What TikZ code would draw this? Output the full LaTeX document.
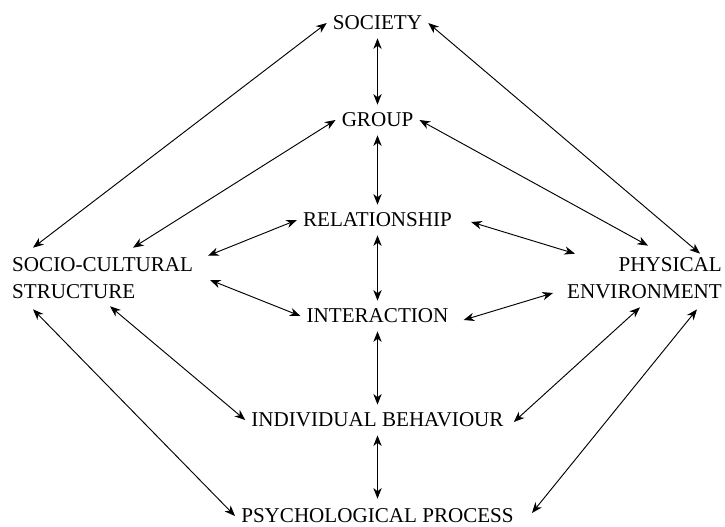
\documentclass[tikz,border=0pt]{standalone}
\usepackage{fontspec}
\setmainfont{Liberation Serif}
\usetikzlibrary{arrows.meta,calc}

\begin{document}
\begin{tikzpicture}[x=0.03cm, y=-0.03cm,
		concept/.style={
		% The shape:
		rectangle,
		% The spacing:
		inner xsep=0.18cm, inner ysep=0.24cm,
		% Font
		font=\fontsize{18}{23}\selectfont
		},
		link/.style={
		% both ends
		<->, line width=0.8pt,
		>={Stealth[length=3.2mm,width=2.5mm,inset=1mm]}
		},
		]
	\useasboundingbox (0,0) rectangle (725,526);
	% middle column
	\node [concept] (society) at (377.5,23) {SOCIETY};
	\node [concept] (group) at (377.5,120) {GROUP};
	\node [concept] (relation) at (377.5,220) {RELATIONSHIP};
	\node [concept] (interact) at (377.5,316) {INTERACTION};
	\node [concept] (indiv) at (377.5,420) {INDIVIDUAL BEHAVIOUR};
	\node [concept] (psych) at (377.5,516) {PSYCHOLOGICAL PROCESS};
	% the two sides
	\node [concept, anchor=west, align=left] (socio) at (6,278.5) {SOCIO-CULTURAL\\STRUCTURE};
	\node [concept, anchor=east, align=right] (phys) at (728,278.5) {PHYSICAL\\ENVIRONMENT};

	\draw [link] (society) -- (group);
	\draw [link] (group) -- (relation);
	\draw [link] (relation) -- (interact);
	\draw [link] (interact) -- (indiv);
	\draw [link] (indiv) -- ([yshift=0.06cm]psych.north);

	% left side
	\draw [link] (society.west) -- ($(socio.north west)+(27,-2)$);
	\draw [link] (group.west) -- ($(socio.north west)+(127,-2)$);
	\draw [link] (relation.west) -- ($(socio.north west)+(202,6)$);
	\draw [link] (interact.west) -- ($(socio.west)+(204,1.5)$);
	\draw [link] (indiv.west) -- ($(socio.south west)+(104,-1)$);
	\draw [link] (psych.west) -- ($(socio.south west)+(27,2)$);
	% right side
	\draw [link] (society.east) -- ($(phys.north east)+(-28,4)$);
	\draw [link] (group.east) -- ($(phys.north east)+(-80,-4)$);
	\draw [link] ($(relation.east)+(13,2)$) -- ($(phys.north east)+(-153,4)$);
	\draw [link] ($(interact.east)+(9,4)$) -- ($(phys.east)+(-175,14.5)$);
	\draw [link] ($(indiv.east)+(4,2)$) -- ($(phys.south east)+(-88,0)$);
	\draw [link] ($(psych.east)+(12,-3)$) -- ($(phys.south east)+(-31,2)$);
\end{tikzpicture}
\end{document}
